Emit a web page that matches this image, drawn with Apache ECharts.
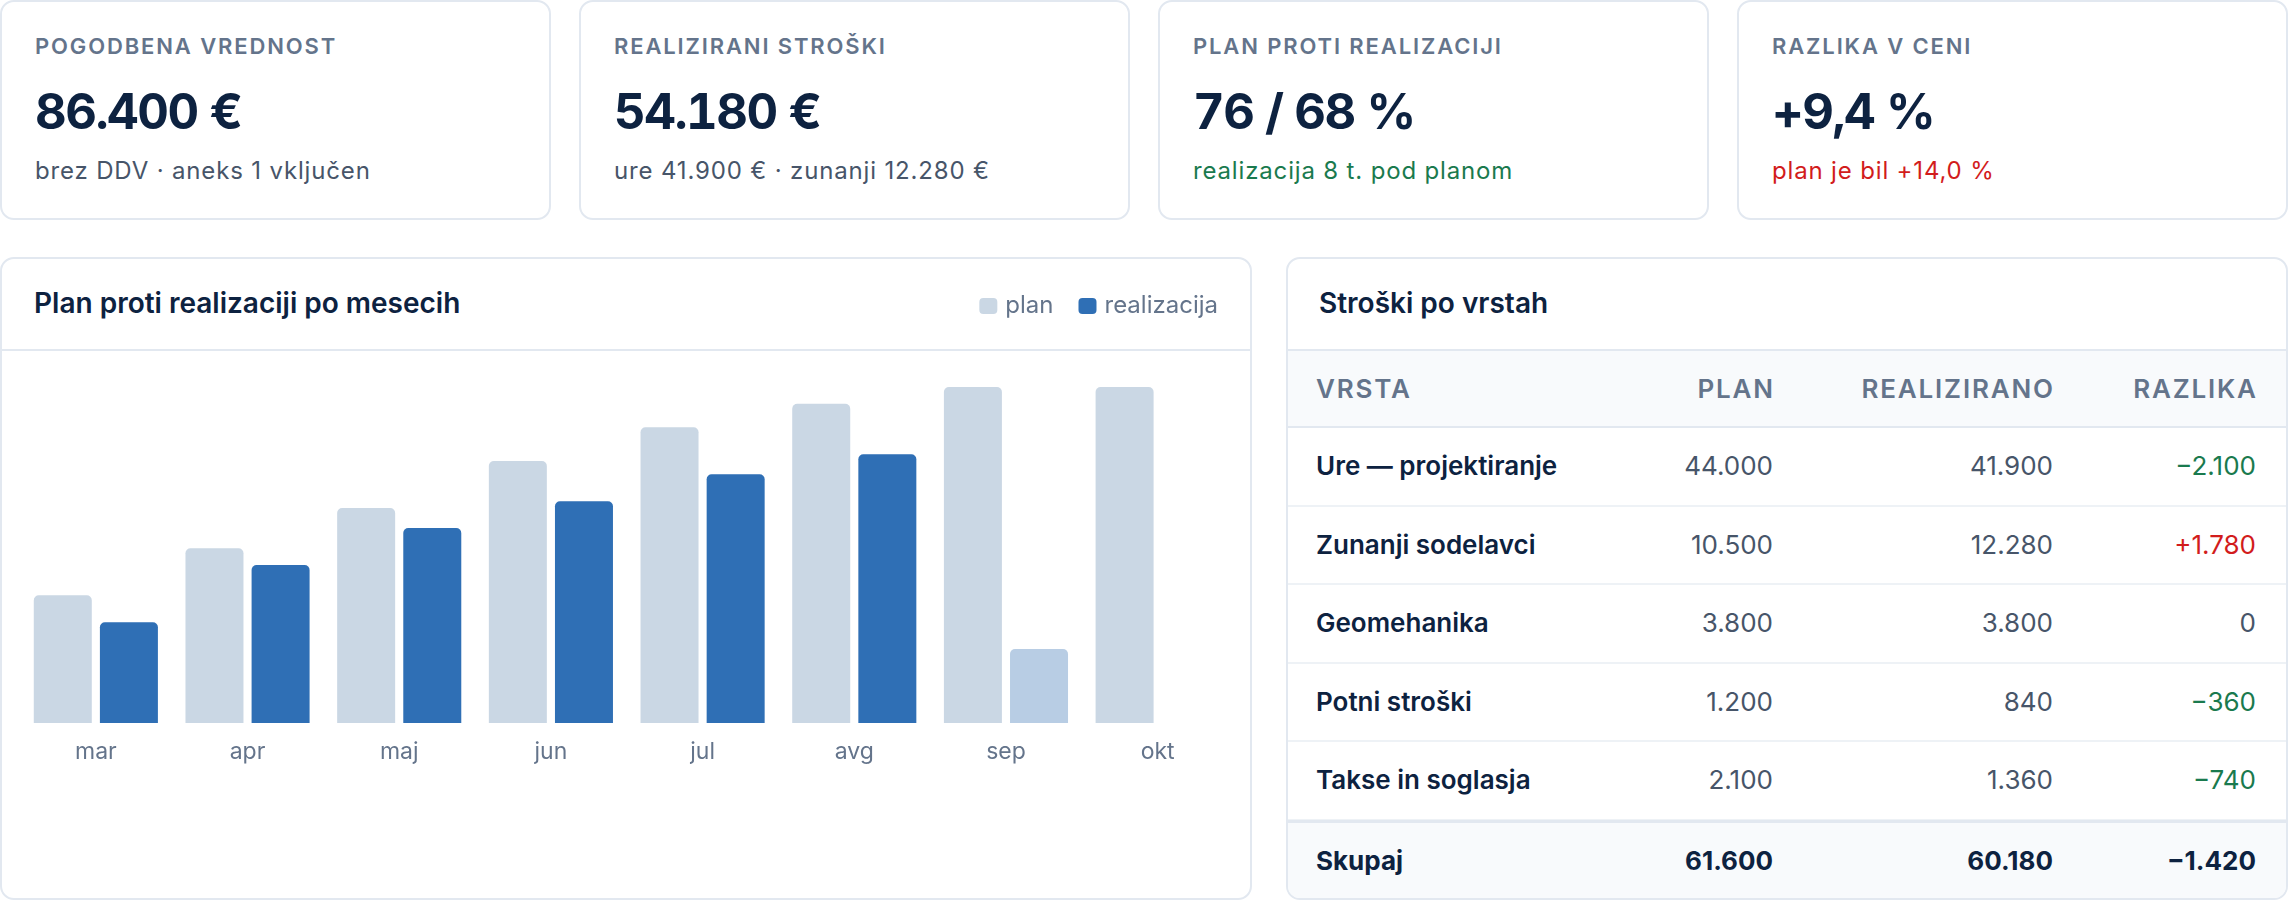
<!DOCTYPE html>
<html><head><meta charset="utf-8">
<script src="https://cdn.jsdelivr.net/npm/echarts@6/dist/echarts.min.js"></script>
<style>
html,body{margin:0;padding:0;background:#fff;}
body{width:2288px;height:901px;position:relative;overflow:hidden;font-family:Inter,"Noto Sans",sans-serif;}
.card{position:absolute;top:0;width:551px;height:220px;box-sizing:border-box;border:2px solid #e2e8f0;border-radius:14px;background:#fff;}
.card .lab{position:absolute;left:33px;top:33px;font-size:22px;line-height:22px;font-weight:600;letter-spacing:0.085em;color:#64748b;white-space:nowrap;}
.card .val{position:absolute;left:33px;top:85px;font-size:49px;line-height:49px;font-weight:700;letter-spacing:-0.03em;font-variant-numeric:tabular-nums;color:#0d2240;white-space:nowrap;}
.card .sub{position:absolute;left:33px;top:157px;font-size:24px;line-height:24px;letter-spacing:0.035em;color:#475569;white-space:nowrap;}
.good{color:#1a7a4e !important;}
.bad{color:#d21c1c !important;}
.panel{position:absolute;top:257px;height:643px;box-sizing:border-box;border:2px solid #e2e8f0;border-radius:14px;background:#fff;overflow:hidden;}
.phead{position:absolute;left:0;top:0;right:0;height:90px;border-bottom:2px solid #e2e8f0;}
.ptitle{position:absolute;top:30px;font-size:28px;line-height:28px;font-weight:600;color:#0d2240;white-space:nowrap;}
#chart{position:absolute;left:0;top:0;width:1248px;height:639px;}
.row{position:absolute;left:0;width:998px;box-sizing:border-box;}
.row span{position:absolute;top:0;white-space:nowrap;}
.hrow{background:#f8fafc;border-bottom:2px solid #e2e8f0;}
.hrow span{font-size:26px;font-weight:600;color:#64748b;letter-spacing:0.07em;margin-right:-0.07em;}
.brow{border-bottom:2px solid #eef2f6;}
.brow span{font-size:26px;color:#475569;}
.brow span.c0{font-weight:600;color:#0d2240;}
.trow{background:#f8fafc;border-top:3px solid #e2e8f0;}
.trow span{font-size:26px;font-weight:700;color:#0d2240;}
</style></head>
<body>
<div id="cards"></div>
<div class="panel" style="left:0;width:1252px;">
  <div class="phead"><div class="ptitle" style="left:32px;">Plan proti realizaciji po mesecih</div></div>
  <div id="chart"></div>
</div>
<div class="panel" id="tpanel" style="left:1286px;width:1002px;">
  <div class="phead"><div class="ptitle" style="left:31px;">Stroški po vrstah</div></div>
</div>
<script>
// KPI cards
const kpiLabels = ['POGODBENA VREDNOST','REALIZIRANI STROŠKI','PLAN PROTI REALIZACIJI','RAZLIKA V CENI'];
const kpiValues = ['86.400 €','54.180 €','76 / 68 %','+9,4 %'];
const kpiSubs = ['brez DDV · aneks 1 vključen','ure 41.900 € · zunanji 12.280 €','realizacija 8 t. pod planom','plan je bil +14,0 %'];
const kpiSubTone = ['','','good','bad'];

// Chart data (cumulative % of plan)
const months = ['mar','apr','maj','jun','jul','avg','sep','okt'];
const planPct = [38, 52, 64, 78, 88, 95, 100, 100];
const realPct = [30, 47, 58, 66, 74, 80, 22, null];
const realPartial = [false,false,false,false,false,false,true,false];

// Table data
const tableHeads = ['VRSTA','PLAN','REALIZIRANO','RAZLIKA'];
const vrste = ['Ure — projektiranje','Zunanji sodelavci','Geomehanika','Potni stroški','Takse in soglasja'];
const planEur = [44000, 10500, 3800, 1200, 2100];
const realEur = [41900, 12280, 3800, 840, 1360];
const razlikaEur = [-2100, 1780, 0, -360, -740];
const totalRow = ['Skupaj', 61600, 60180, -1420];

// build cards
const lefts = [0, 579, 1158, 1737];
const cards = document.getElementById('cards');
kpiLabels.forEach((l, i) => {
  const d = document.createElement('div');
  d.className = 'card';
  d.style.left = lefts[i] + 'px';
  d.innerHTML = '<div class="lab"></div><div class="val"></div><div class="sub ' + kpiSubTone[i] + '"></div>';
  d.querySelector('.lab').textContent = l;
  d.querySelector('.val').textContent = kpiValues[i];
  d.querySelector('.sub').textContent = kpiSubs[i];
  cards.appendChild(d);
});

// build table
function thou(n) { return String(Math.abs(n)).replace(/\B(?=(\d{3})+(?!\d))/g, '.'); }
function diff(n) { return (n < 0 ? '\u2212' : n > 0 ? '+' : '') + thou(n); }
const tp = document.getElementById('tpanel');
const colPos = [{left:28},{right:513},{right:233},{right:30}];
function addRow(cls, top, h, cells, tones) {
  const r = document.createElement('div');
  r.className = 'row ' + cls;
  r.style.top = top + 'px';
  r.style.height = h + 'px';
  const inner = h - (cls === 'trow' ? 3 : 2);
  cells.forEach((c, j) => {
    const s = document.createElement('span');
    s.className = 'c' + j + (tones && tones[j] ? ' ' + tones[j] : '');
    s.textContent = c;
    s.style.lineHeight = inner + 'px';
    if (colPos[j].left !== undefined) s.style.left = colPos[j].left + 'px';
    else s.style.right = colPos[j].right + 'px';
    r.appendChild(s);
  });
  tp.appendChild(r);
}
addRow('hrow', 92, 77, tableHeads);
const rowTops = [169, 247.5, 326, 404.5, 483];
vrste.forEach((v, i) => {
  const d = razlikaEur[i];
  addRow('brow', rowTops[i], 78.5, [v, thou(planEur[i]), thou(realEur[i]), diff(d)],
         ['', '', '', d < 0 ? 'good' : d > 0 ? 'bad' : '']);
});
addRow('trow', 560.5, 78.5, [totalRow[0], thou(totalRow[1]), thou(totalRow[2]), diff(totalRow[3])]);

// chart
const chart = echarts.init(document.getElementById('chart'), null, {renderer: 'canvas'});
chart.setOption({
  animation: false,
  textStyle: {fontFamily: 'Inter'},
  legend: {
    data: ['plan', 'realizacija'], right: 27, top: 29, itemWidth: 18, itemHeight: 16, itemGap: 25,
    icon: 'roundRect',
    textStyle: {fontFamily: 'Inter', fontSize: 24, color: '#64748b', lineHeight: 26, padding: [0, 0, 0, 3]}
  },
  grid: {left: 18, right: 16.5, top: 128, bottom: 175},
  xAxis: {
    type: 'category', data: months,
    axisLine: {show: false}, axisTick: {show: false},
    axisLabel: {fontFamily: 'Inter', fontSize: 23, color: '#64748b', margin: 18}
  },
  yAxis: {type: 'value', min: 0, max: 100, show: false, splitLine: {show: false}},
  series: [
    {name: 'plan', type: 'bar', data: planPct, barWidth: 58, barGap: '14%',
     itemStyle: {color: '#cad7e4', borderRadius: [5, 5, 0, 0]}},
    {name: 'realizacija', type: 'bar', barWidth: 58,
     data: realPct.map((v, i) => realPartial[i] ? {value: v, itemStyle: {color: '#b8cde4'}} : v),
     itemStyle: {color: '#2f6fb5', borderRadius: [5, 5, 0, 0]}}
  ]
});
</script>
</body></html>
